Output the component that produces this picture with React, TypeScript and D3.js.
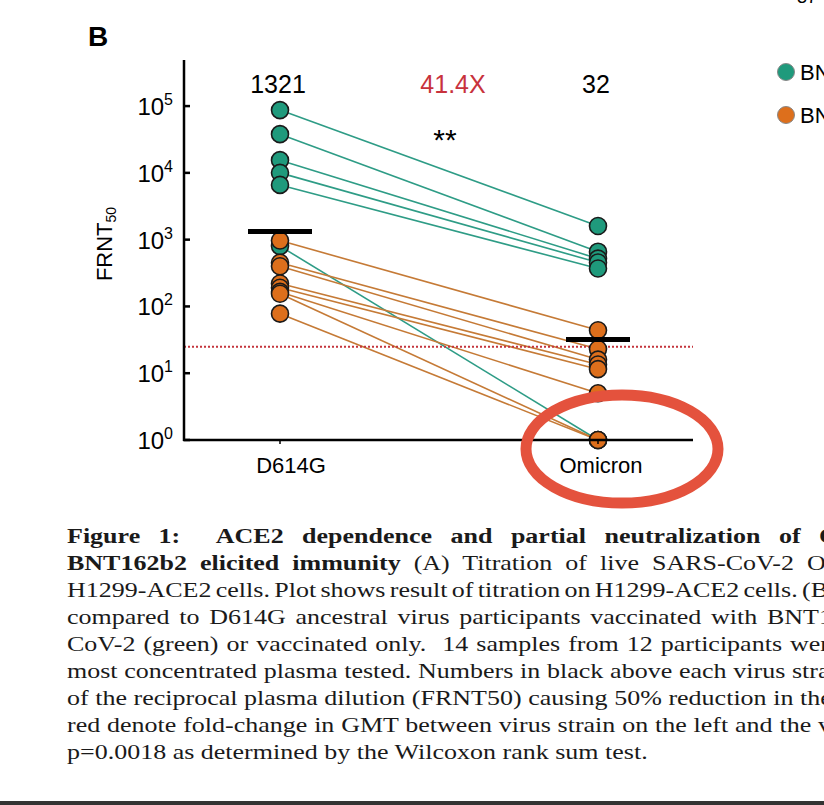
import React, { useEffect, useRef } from 'react';
import * as d3 from 'd3';

const strains = ['D614G', 'Omicron'];
// BNT162b2 vaccinated + previously infected (green)
const d614gInfected = [87000, 38000, 15500, 10000, 6600, 800];
const omicronInfected = [1600, 660, 520, 455, 370, 1];
// BNT162b2 vaccinated only (orange)
const d614gVaccinated = [970, 450, 400, 220, 190, 165, 155, 78];
const omicronVaccinated = [44, 23, 16, 13.5, 11.5, 5, 1, 1];
const gmt = [1321, 32];
const foldChange = '41.4X';
const detectionLimit = 25;
const yTicks = [1, 10, 100, 1000, 10000, 100000];
const legendLabels = ['BNT162b2 + SARS-CoV-2 infection', 'BNT162b2 only'];

// caption lines; "anchor" is a word whose left edge is pinned (justified text)
const captionLines: { segs: { t: string; b?: boolean }[]; anchor?: string; ax?: number }[] = [
    { segs: [{ t: 'Figure 1:  ACE2 dependence and partial neutralization of Omicron by', b: true }], anchor: 'Omicron', ax: 819 },
    { segs: [{ t: 'BNT162b2 elicited immunity', b: true }, { t: ' (A) Titration of live SARS-CoV-2 Omicron isolate' }], anchor: 'Omicron', ax: 807 },
    { segs: [{ t: 'H1299-ACE2 cells. Plot shows result of titration on H1299-ACE2 cells. (B) Neutralization' }], anchor: '(B)', ax: 802 },
    { segs: [{ t: 'compared to D614G ancestral virus participants vaccinated with BNT162b2 and previously' }], anchor: 'BNT162b2', ax: 767 },
    { segs: [{ t: 'CoV-2 (green) or vaccinated only.  14 samples from 12 participants were tested' }], anchor: 'were', ax: 790 },
    { segs: [{ t: 'most concentrated plasma tested. Numbers in black above each virus strain are the' }], anchor: 'strain', ax: 792 },
    { segs: [{ t: 'of the reciprocal plasma dilution (FRNT50) causing 50% reduction in the number of' }], anchor: 'the number', ax: 800 },
    { segs: [{ t: 'red denote fold-change in GMT between virus strain on the left and the virus strain' }], anchor: 'virus strain', ax: 818 },
    { segs: [{ t: 'p=0.0018 as determined by the Wilcoxon rank sum test.' }] },
];
const lastLineEnd = 648;

const green = '#1f9a7c';
const orange = '#dd6f1c';
const greenLine = '#2e9c86';
const orangeLine = '#c57a36';

const App: React.FC = () => {
    const svgRef = useRef<SVGSVGElement>(null);
    const width = 824;
    const height = 805;

    useEffect(() => {
        if (!svgRef.current) return;
        const svg = d3.select(svgRef.current);
        svg.selectAll('*').remove();

        const axisX = 184;
        const axisRight = 693;
        const sans = 'Liberation Sans, Arial, sans-serif';

        const x = d3.scalePoint<string>().domain(strains).range([280, 598]);
        const y = d3.scaleLog().domain([1, Math.pow(10, 5.69)]).range([440, 60]);

        svg.append('rect').attr('width', width).attr('height', height).attr('fill', '#fff');

        // panel letter
        svg.append('text')
            .attr('x', 88).attr('y', 46)
            .attr('font-family', sans).attr('font-weight', 'bold').attr('font-size', 28)
            .text('B');

        // page number remnant
        svg.append('text')
            .attr('x', 797).attr('y', 3)
            .attr('font-family', sans).attr('font-size', 18)
            .text('37');

        // pairs of lines
        const pairs = [
            ...d614gInfected.map((v, i) => ({ a: v, b: omicronInfected[i], c: greenLine })),
            ...d614gVaccinated.map((v, i) => ({ a: v, b: omicronVaccinated[i], c: orangeLine })),
        ];
        svg.append('g').selectAll('line')
            .data(pairs)
            .join('line')
            .attr('x1', x('D614G')!).attr('x2', x('Omicron')!)
            .attr('y1', d => y(d.a)).attr('y2', d => y(d.b))
            .attr('stroke', d => d.c)
            .attr('stroke-width', 1.6);

        // detection limit
        svg.append('line')
            .attr('x1', axisX).attr('x2', axisRight)
            .attr('y1', y(detectionLimit)).attr('y2', y(detectionLimit))
            .attr('stroke', '#c4343c').attr('stroke-width', 2)
            .attr('stroke-dasharray', '2,2');

        // points (green first, orange on top)
        const points = [
            ...d614gInfected.map(v => ({ s: 'D614G', v, c: green })),
            ...omicronInfected.map(v => ({ s: 'Omicron', v, c: green })),
            ...d614gVaccinated.map(v => ({ s: 'D614G', v, c: orange })),
            ...omicronVaccinated.map(v => ({ s: 'Omicron', v, c: orange })),
        ];
        svg.append('g').selectAll('circle')
            .data(points)
            .join('circle')
            .attr('cx', d => x(d.s)!)
            .attr('cy', d => y(d.v))
            .attr('r', 8.5)
            .attr('fill', d => d.c)
            .attr('stroke', '#1a1a1a')
            .attr('stroke-width', 1.6);

        // GMT bars
        svg.append('g').selectAll('line')
            .data(strains)
            .join('line')
            .attr('x1', d => x(d)! - 32).attr('x2', d => x(d)! + 32)
            .attr('y1', (d, i) => y(gmt[i])).attr('y2', (d, i) => y(gmt[i]))
            .attr('stroke', '#000').attr('stroke-width', 5);

        // axes
        svg.append('line')
            .attr('x1', axisX).attr('x2', axisX)
            .attr('y1', 60).attr('y2', 441)
            .attr('stroke', '#000').attr('stroke-width', 2.5);
        svg.append('line')
            .attr('x1', axisX - 1).attr('x2', axisRight)
            .attr('y1', 440).attr('y2', 440)
            .attr('stroke', '#000').attr('stroke-width', 2.5);

        const yt = svg.append('g');
        yt.selectAll('line')
            .data(yTicks)
            .join('line')
            .attr('x1', axisX).attr('x2', axisX + 6)
            .attr('y1', d => y(d)).attr('y2', d => y(d))
            .attr('stroke', '#000').attr('stroke-width', 2.5);
        const labels = yt.selectAll('text')
            .data(yTicks)
            .join('text')
            .attr('x', 173)
            .attr('y', d => y(d) + 9)
            .attr('text-anchor', 'end')
            .attr('font-family', sans)
            .attr('font-size', 24);
        labels.append('tspan').text('10');
        labels.append('tspan')
            .attr('dy', -10).attr('font-size', 16)
            .text(d => String(Math.round(Math.log10(d))));

        svg.append('g').selectAll('line')
            .data(strains)
            .join('line')
            .attr('x1', d => x(d)!).attr('x2', d => x(d)!)
            .attr('y1', 440).attr('y2', 444)
            .attr('stroke', '#000').attr('stroke-width', 1.5);

        svg.append('g').selectAll('text')
            .data(strains)
            .join('text')
            .attr('x', (d, i) => x(d)! + (i === 0 ? 11 : 3))
            .attr('y', 473)
            .attr('text-anchor', 'middle')
            .attr('font-family', sans).attr('font-size', 22)
            .text(d => d);

        // y label
        const yl = svg.append('text')
            .attr('transform', 'translate(112,244) rotate(-90)')
            .attr('text-anchor', 'middle')
            .attr('font-family', sans).attr('font-size', 22);
        yl.append('tspan').text('FRNT');
        yl.append('tspan').attr('font-size', 14).attr('dy', 4).text('50');

        // GMT and fold change
        svg.append('g').selectAll('text')
            .data(gmt)
            .join('text')
            .attr('x', (d, i) => x(strains[i])! - 2)
            .attr('y', 93)
            .attr('text-anchor', 'middle')
            .attr('font-family', sans).attr('font-size', 25)
            .text(d => String(d));
        svg.append('text')
            .attr('x', (x('D614G')! + x('Omicron')!) / 2 + 14)
            .attr('y', 93)
            .attr('text-anchor', 'middle')
            .attr('fill', '#c8323c')
            .attr('font-family', sans).attr('font-size', 25)
            .text(foldChange);
        svg.append('text')
            .attr('x', (x('D614G')! + x('Omicron')!) / 2 + 6)
            .attr('y', 150)
            .attr('text-anchor', 'middle')
            .attr('font-family', sans).attr('font-size', 30)
            .text('**');

        // legend
        const lg = svg.append('g').selectAll('g')
            .data(legendLabels)
            .join('g')
            .attr('transform', (d, i) => `translate(786,${72 + i * 43})`);
        lg.append('circle')
            .attr('r', 8.5)
            .attr('fill', (d, i) => (i === 0 ? green : orange))
            .attr('stroke', '#888').attr('stroke-width', 1);
        lg.append('text')
            .attr('x', 14).attr('y', 8)
            .attr('font-family', sans).attr('font-size', 22)
            .text(d => d);

        // red annotation ellipse
        svg.append('ellipse')
            .attr('cx', 622).attr('cy', 449)
            .attr('rx', 96).attr('ry', 54)
            .attr('fill', 'none')
            .attr('stroke', '#e4523d').attr('stroke-width', 11);

        // caption (horizontal scale fitted to the last line, others justified by word-spacing)
        const capX = 67;
        const cap = svg.append('g');
        const texts = captionLines.map((line, i) => {
            const t = cap.append('text')
                .attr('x', 0).attr('y', 543 + i * 27)
                .attr('font-family', 'Liberation Serif, Times New Roman, serif')
                .attr('font-size', 21)
                .attr('fill', '#1a1a1a')
                .style('white-space', 'pre');
            line.segs.forEach(s => {
                t.append('tspan')
                    .attr('font-weight', s.b ? 'bold' : 'normal')
                    .text(s.t);
            });
            return t;
        });
        const lastLen = (texts[texts.length - 1].node() as SVGTextElement).getComputedTextLength();
        const sx = (lastLineEnd - capX) / lastLen;
        cap.attr('transform', `translate(${capX},0) scale(${sx},1)`);
        captionLines.forEach((line, i) => {
            if (!line.anchor || line.ax === undefined) return;
            const t = texts[i];
            const node = t.node() as SVGTextElement;
            const full = line.segs.map(s => s.t).join('');
            const k = full.lastIndexOf(line.anchor);
            const n = full.slice(0, k).split(' ').length - 1;
            const p0 = node.getStartPositionOfChar(k).x;
            const target = (line.ax - capX) / sx;
            if (n > 0) t.style('word-spacing', `${(target - p0) / n}px`);
        });

        svg.append('rect')
            .attr('x', 0).attr('y', 801).attr('width', width).attr('height', 4)
            .attr('fill', '#333');
    }, []);

    return (
        <svg ref={svgRef} width={width} height={height}
            style={{ position: 'absolute', left: 0, top: 0, display: 'block' }}></svg>
    );
};

export default App;
